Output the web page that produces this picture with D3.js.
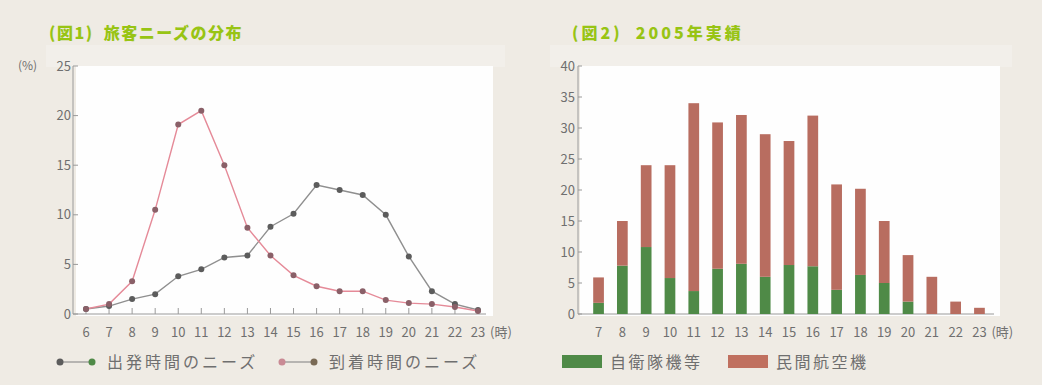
<!DOCTYPE html>
<html>
<head>
<meta charset="utf-8">
<script src="https://cdn.jsdelivr.net/npm/d3@7"></script>
<style>
    body { margin: 0; background: #efebe4; }
    svg { display: block; font-family: "Noto Sans CJK JP", "Noto Sans", sans-serif; }
    .title { white-space: pre; }
</style>
</head>
<body>
<svg id="chart" width="1042" height="385"></svg>
<script>
// (図1) hourly passenger needs, %
var hours1 = [6, 7, 8, 9, 10, 11, 12, 13, 14, 15, 16, 17, 18, 19, 20, 21, 22, 23];
var departure = [0.5, 0.8, 1.5, 2.0, 3.8, 4.5, 5.7, 5.9, 8.8, 10.1, 13.0, 12.5, 12.0, 10.0, 5.8, 2.3, 1.0, 0.4];
var arrival = [0.5, 1.0, 3.3, 10.5, 19.1, 20.5, 15.0, 8.7, 5.9, 3.9, 2.8, 2.3, 2.3, 1.4, 1.1, 1.0, 0.7, 0.3];
var yTicks1 = [0, 5, 10, 15, 20, 25];

// (図2) 2005 results
var hours2 = [7, 8, 9, 10, 11, 12, 13, 14, 15, 16, 17, 18, 19, 20, 21, 22, 23];
var military = [1.8, 7.8, 10.8, 5.8, 3.7, 7.3, 8.1, 6.0, 7.9, 7.7, 3.9, 6.3, 5.0, 2.0, 0, 0, 0];
var civil = [4.1, 7.2, 13.2, 18.2, 30.3, 23.6, 24.0, 23.0, 20.0, 24.3, 17.0, 13.9, 10.0, 7.5, 6.0, 2.0, 1.0];
var yTicks2 = [0, 5, 10, 15, 20, 25, 30, 35, 40];

var svg = d3.select("#chart");
var textColor = "#6f6f6f";
var titleColor = "#98c414";

function frame(x0, x1) {
    svg.append("rect").attr("x", x0 - 30).attr("y", 45).attr("width", x1 - x0 + 42).attr("height", 22)
        .attr("fill", "#f2efea");
    svg.append("rect").attr("x", x0).attr("y", 66).attr("width", x1 - x0).attr("height", 250)
        .attr("fill", "#fefefe");
}

frame(76, 493);
frame(580, 1000);

svg.append("text").attr("class", "title").attr("x", 49).attr("y", 39)
    .attr("fill", titleColor).attr("font-size", 16).attr("font-weight", 900)
    .attr("letter-spacing", "1.5px")
    .text("(図1)  旅客ニーズの分布");
svg.append("text").attr("class", "title").attr("x", 572).attr("y", 39)
    .attr("fill", titleColor).attr("font-size", 16).attr("font-weight", 900)
    .attr("letter-spacing", "3px")
    .text("(図2)  2005年実績");

// ---- chart 1
var x1 = d3.scaleLinear().domain([6, 23]).range([86, 478]);
var y1 = d3.scaleLinear().domain([0, 25]).range([314, 66]);

var g1 = svg.append("g");

g1.append("line").attr("x1", 73).attr("x2", 486).attr("y1", y1(0)).attr("y2", y1(0))
    .attr("stroke", "#9a9a9a");
g1.append("line").attr("x1", 73).attr("x2", 73).attr("y1", y1(25)).attr("y2", y1(0))
    .attr("stroke", "#9a9a9a");

g1.selectAll(".ytick").data(yTicks1).enter().append("g")
    .attr("transform", d => `translate(73,${y1(d)})`)
    .each(function(d) {
        var t = d3.select(this);
        t.append("line").attr("x2", 5).attr("stroke", "#9a9a9a");
        t.append("text").attr("x", -2).attr("dy", "0.35em").attr("text-anchor", "end")
            .attr("font-size", 13).attr("fill", textColor).text(d);
    });

g1.append("text").attr("x", 18).attr("y", y1(25)).attr("dy", "0.35em")
    .attr("font-size", 12).attr("fill", textColor).text("(%)");

g1.selectAll(".xtick").data(hours1).enter().append("g")
    .attr("transform", d => `translate(${x1(d)},${y1(0)})`)
    .each(function(d) {
        var t = d3.select(this);
        t.append("line").attr("y1", -6).attr("stroke", "#9a9a9a");
        t.append("text").attr("y", 23).attr("text-anchor", "middle")
            .attr("font-size", 13).attr("fill", textColor).text(d);
    });
g1.append("text").attr("x", x1(23) + 12).attr("y", y1(0) + 23)
    .attr("font-size", 13).attr("fill", textColor).text("(時)");

var line1 = d3.line().x((d, i) => x1(hours1[i])).y(d => y1(d));

g1.append("path").datum(departure).attr("d", line1)
    .attr("fill", "none").attr("stroke", "#8f8f8f").attr("stroke-width", 1.4);
g1.append("path").datum(arrival).attr("d", line1)
    .attr("fill", "none").attr("stroke", "#e58a98").attr("stroke-width", 1.4);

g1.selectAll(".dep").data(departure).enter().append("circle")
    .attr("cx", (d, i) => x1(hours1[i])).attr("cy", d => y1(d)).attr("r", 3)
    .attr("fill", "#5c5c5c");
g1.selectAll(".arr").data(arrival).enter().append("circle")
    .attr("cx", (d, i) => x1(hours1[i])).attr("cy", d => y1(d)).attr("r", 3)
    .attr("fill", "#8a6068");

// legend 1
var leg1 = [
    { x: 60, a: "#5c5c5c", b: "#4f8a47", label: "出発時間のニーズ" },
    { x: 282, a: "#c98a94", b: "#7a6a55", label: "到着時間のニーズ" }
];
leg1.forEach(function(l) {
    var g = svg.append("g").attr("transform", `translate(${l.x},362)`);
    g.append("line").attr("x1", 0).attr("x2", 32).attr("stroke", "#8f8f8f").attr("stroke-width", 1.2);
    g.append("circle").attr("r", 3.5).attr("fill", l.a);
    g.append("circle").attr("cx", 32).attr("r", 3.5).attr("fill", l.b);
    g.append("text").attr("x", 47).attr("dy", "0.38em").attr("font-size", 16)
        .attr("fill", textColor).attr("letter-spacing", "3px").text(l.label);
});

// ---- chart 2
var x2 = d3.scaleBand().domain(hours2).range([592, 986]).paddingInner(0.55).paddingOuter(0.05);
var y2 = d3.scaleLinear().domain([0, 40]).range([314, 66]);

var g2 = svg.append("g");

g2.append("line").attr("x1", 578).attr("x2", 994).attr("y1", y2(0)).attr("y2", y2(0))
    .attr("stroke", "#9a9a9a");
g2.append("line").attr("x1", 578).attr("x2", 578).attr("y1", y2(40)).attr("y2", y2(0))
    .attr("stroke", "#9a9a9a");

g2.selectAll(".ytick").data(yTicks2).enter().append("g")
    .attr("transform", d => `translate(578,${y2(d)})`)
    .each(function(d) {
        var t = d3.select(this);
        t.append("line").attr("x2", 4).attr("stroke", "#9a9a9a");
        t.append("text").attr("x", -3).attr("dy", "0.35em").attr("text-anchor", "end")
            .attr("font-size", 13).attr("fill", textColor).text(d);
    });

g2.selectAll(".xtick").data(hours2).enter().append("text")
    .attr("x", d => x2(d) + x2.bandwidth() / 2).attr("y", y2(0) + 23)
    .attr("text-anchor", "middle").attr("font-size", 13).attr("fill", textColor)
    .text(d => d);
g2.append("text").attr("x", x2(23) + x2.bandwidth() / 2 + 12).attr("y", y2(0) + 23)
    .attr("font-size", 13).attr("fill", textColor).text("(時)");

var stacked = hours2.map((h, i) => ({ h: h, m: military[i], c: civil[i] }));

g2.selectAll(".mil").data(stacked).enter().append("rect")
    .attr("x", d => x2(d.h)).attr("width", x2.bandwidth())
    .attr("y", d => y2(d.m)).attr("height", d => y2(0) - y2(d.m))
    .attr("fill", "#4f8a47");
g2.selectAll(".civ").data(stacked).enter().append("rect")
    .attr("x", d => x2(d.h)).attr("width", x2.bandwidth())
    .attr("y", d => y2(d.m + d.c)).attr("height", d => y2(d.m) - y2(d.m + d.c))
    .attr("fill", "#b86d60");

// legend 2
var leg2 = [
    { x: 562, color: "#4f8a47", label: "自衛隊機等" },
    { x: 728, color: "#c0705f", label: "民間航空機" }
];
leg2.forEach(function(l) {
    var g = svg.append("g").attr("transform", `translate(${l.x},362)`);
    g.append("rect").attr("y", -7).attr("width", 40).attr("height", 13).attr("fill", l.color);
    g.append("text").attr("x", 48).attr("dy", "0.38em").attr("font-size", 16)
        .attr("fill", textColor).attr("letter-spacing", "2.5px").text(l.label);
});
</script>
</body>
</html>
